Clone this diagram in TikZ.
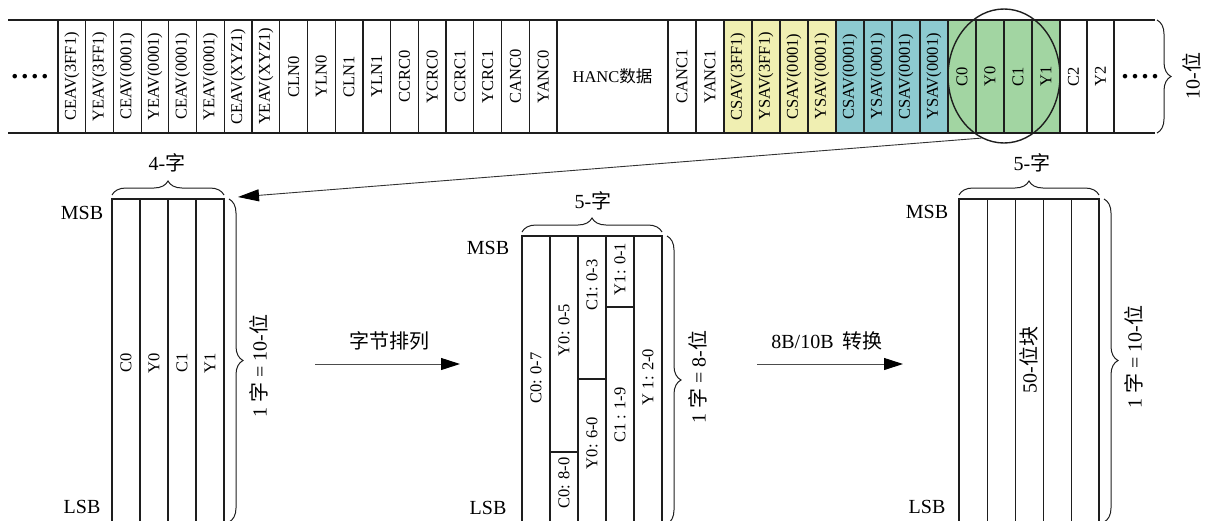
\documentclass[tikz,border=0pt]{standalone}
\usepackage{fontspec}
\setmainfont{Liberation Serif}
\newfontfamily\cjk{Noto Sans CJK SC}
\usetikzlibrary{shapes.geometric,arrows.meta,decorations.pathreplacing}
\definecolor{cyel}{RGB}{240,239,178}
\definecolor{ccyan}{RGB}{141,202,208}
\definecolor{cgrn}{RGB}{162,213,162}
\definecolor{lncol}{RGB}{30,30,30}
\newcommand{\smf}{\fontsize{16.5}{18}\selectfont}
\newcommand{\bgf}{\fontsize{20}{22}\selectfont}
\newcommand{\dotf}{\fontsize{28}{30}\selectfont}
\begin{document}
\begin{tikzpicture}[x=1pt,y=-1pt,
  cell/.style={draw=lncol, line width=1.2pt, rotate=90, minimum width=113pt, inner sep=0pt, font=\smf},
  blk/.style={draw=lncol, line width=1.6pt},
  thinblk/.style={draw=lncol, line width=0.8pt},
  brc/.style={draw=lncol, line width=1pt, decorate, decoration={brace, amplitude=14pt}},
  lbl/.style={font=\smf, rotate=90, inner sep=0pt},
  big/.style={font=\bgf, inner sep=0pt},
  bigr/.style={font=\bgf, inner sep=0pt, rotate=90},
  parr/.style={draw=black!70, line width=1pt, -{Triangle[length=19pt,width=12pt,black]}}]
\useasboundingbox (0,0) rectangle (1210,520);

% ---- top strip ----
\foreach \lab [count=\i from 0] in {CEAV(3FF1),YEAV(3FF1),CEAV(0001),YEAV(0001),CEAV(0001),YEAV(0001),CEAV(XYZ1),YEAV(XYZ1),CLN0,YLN0,CLN1,YLN1,CCRC0,YCRC0,CCRC1,YCRC1,CANC0,YANC0}
  \node[cell, minimum height=27.72pt] (t\i) at ({58+27.72*(\i+0.5)},76.5) {\lab};
\node[draw=lncol, line width=1.2pt, minimum width=111pt, minimum height=113pt, inner sep=0pt, font=\smf] (hanc) at (612.5,76.5) {HANC{\cjk 数据}};
\foreach \lab/\col [count=\i from 0] in {CANC1/white,YANC1/white,CSAV(3FF1)/cyel,YSAV(3FF1)/cyel,CSAV(0001)/cyel,YSAV(0001)/cyel,CSAV(0001)/ccyan,YSAV(0001)/ccyan,CSAV(0001)/ccyan,YSAV(0001)/ccyan,C0/cgrn,Y0/cgrn,C1/cgrn,Y1/cgrn}
  \node[cell, minimum height=28pt, fill=\col] (u\i) at ({668+28*(\i+0.5)},76.5) {\lab};
\node[cell, minimum height=27pt] (c2) at (1073.5,76.5) {C2};
\node[cell, minimum height=27pt] (y2) at (1100.5,76.5) {Y2};
\draw[draw=lncol, line width=1.2pt] (8,20) -- (58,20) (8,133) -- (58,133);
\draw[draw=lncol, line width=1.2pt] (1114,20) -- (1155,20) (1114,133) -- (1155,133);
\node[font=\dotf\bfseries, inner sep=0pt] (ldots) at (30,77) {.\hspace{3pt}.\hspace{3pt}.\hspace{3pt}.};
\node[font=\dotf\bfseries, inner sep=0pt] (rdots) at (1140,77) {.\hspace{3pt}.\hspace{3pt}.\hspace{3pt}.};
\draw[brc] (1157,20) -- (1157,133);
\node[bigr] (tenbit) at (1192,76) {10-{\cjk 位}};

% selection ellipse
\node[draw=lncol, line width=1.4pt, ellipse, minimum width=112pt, minimum height=134pt, inner sep=0pt] (sel) at (1004,76) {};

% ---- left block ----
\draw[blk] (112,522) -- (112,199) -- (224,199) -- (224,522);
\foreach \x in {140,168,196} \draw[blk] (\x,199) -- (\x,522);
\coordinate (lbt) at (238,197);
\draw[draw=black!80, line width=0.9pt, -{Triangle[length=21pt,width=12pt,black]}] (sel.250) -- (lbt);
\draw[brc] (112,195) -- (224,195);
\node[big] (w4) at (167,163) {4-{\cjk 字}};
\draw[brc] (229,199) -- (229,522);
\node[bigr] (l1) at (259,366) {1 {\cjk 字} = 10-{\cjk 位}};
\node[big] (msb1) at (82,213) {MSB};
\node[big] (lsb1) at (82,507) {LSB};
\node[lbl] (lc0) at (126,363) {C0};
\node[lbl] (ly0) at (154,363) {Y0};
\node[lbl] (lc1) at (182,363) {C1};
\node[lbl] (ly1) at (210,363) {Y1};

% arrow 1
\coordinate (a1s) at (315,364);
\coordinate (a1e) at (460,364);
\draw[parr] (a1s) -- (a1e);
\node[big] (t1) at (389,341) {{\cjk 字节排列}};

% ---- middle block ----
\draw[blk] (522,522) -- (522,236) -- (662,236) -- (662,522);
\foreach \x in {550,578,606,634} \draw[blk] (\x,236) -- (\x,522);
\draw[blk] (550,452) -- (578,452);
\draw[blk] (578,379) -- (606,379);
\draw[blk] (606,307) -- (634,307);
\draw[brc] (522,232) -- (662,232);
\node[big] (w5a) at (593,201) {5-{\cjk 字}};
\draw[brc] (667,236) -- (667,524);
\node[bigr] (l2) at (698,377) {1 {\cjk 字} = 8-{\cjk 位}};
\node[big] (msb2) at (488,248) {MSB};
\node[big] (lsb2) at (488,508) {LSB};
\node[lbl] (m1) at (536,378) {C0: 0-7};
\node[lbl] (m2) at (564,330) {Y0: 0-5};
\node[lbl] (m3) at (564,483) {C0: 8-0};
\node[lbl] (m4) at (592,285) {C1: 0-3};
\node[lbl] (m5) at (592,443) {Y0: 6-0};
\node[lbl] (m6) at (620,269) {Y1: 0-1};
\node[lbl] (m7) at (620,415) {C1 : 1-9};
\node[lbl] (m8) at (648,377) {Y 1: 2-0};

% arrow 2
\coordinate (a2s) at (757,364);
\coordinate (a2e) at (903,364);
\draw[parr] (a2s) -- (a2e);
\node[big] (t2) at (827,341) {8B/10B\hspace{9pt}{\cjk 转换}};

% ---- right block ----
\draw[blk] (959,522) -- (959,199) -- (1099,199) -- (1099,522);
\foreach \x in {987,1015,1043,1071} \draw[thinblk] (\x,199) -- (\x,522);
\draw[brc] (959,195) -- (1099,195);
\node[big] (w5b) at (1032,163) {5-{\cjk 字}};
\draw[brc] (1104,199) -- (1104,522);
\node[bigr] (l3) at (1134,357) {1 {\cjk 字} = 10-{\cjk 位}};
\node[big] (msb3) at (927,212) {MSB};
\node[big] (lsb3) at (927,507) {LSB};
\node[bigr] (blk50) at (1029,360) {50-{\cjk 位块}};
\end{tikzpicture}
\end{document}
